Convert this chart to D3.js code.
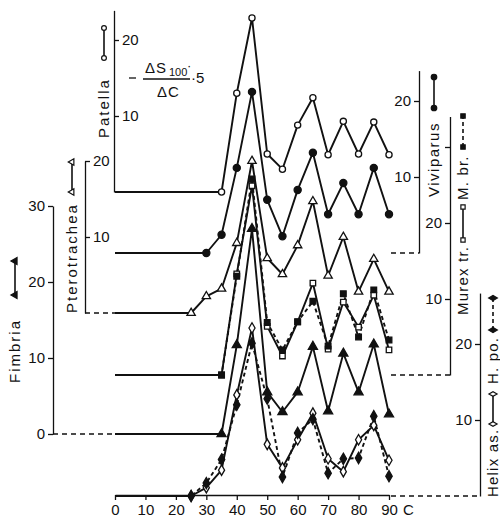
<!DOCTYPE html>
<html><head><meta charset="utf-8">
<script src="https://cdn.jsdelivr.net/npm/d3@7"></script>
<style>
body{margin:0;background:#fff}
text{font-family:"Liberation Sans",Arial,sans-serif;fill:#111}
</style>
</head><body>
<svg id="c" width="500" height="519"></svg>
<script>
// ---------- data ----------
const tempTicks = [0,10,20,30,40,50,60,70,80,90];
const patellaStart = 35;
const patella      = [0,13.0,22.9,5.0,3.0,8.8,12.4,4.9,9.3,5.0,9.2,4.9];
const viviparusStart = 30;
const viviparus    = [0,2.4,11.2,21.2,7.0,2.2,8.3,13.2,5.1,9.2,5.1,11.2,5.1];
const pteroStart = 25;
const pterotrachea = [0,2.2,3.2,9.2,20.0,7.2,5.1,8.9,14.7,4.9,10.0,2.8,7.1,2.8];
const murexStart = 35;
const murexTr      = [0,13.3,24.9,6.4,2.5,7.0,12.1,3.4,9.6,6.3,10.5,3.3];
const murexBr      = [0,13.0,25.8,6.9,3.3,7.0,9.7,3.8,10.7,5.0,11.2,4.6];
const fimbriaStart = 35;
const fimbria      = [0,11.7,27.0,5.5,2.9,5.5,11.5,3.0,10.6,5.5,11.8,2.6];
const helixStart = 25;
const helixAs      = [0,1.1,3.4,13.3,22.1,6.8,3.7,7.4,10.9,4.9,3.2,7.4,9.3,4.7];
const helixPo      = [0,1.7,4.8,12.0,20.1,12.8,2.5,8.3,10.1,3.0,4.9,5.0,10.5,2.6];

const patellaTicks = [10,20];
const viviparusTicks = [10,20];
const pteroTicks = [10,20];
const murexTicks = [10,20,30];
const murexTickLabels = ["10","20",""];
const fimbriaTicks = [0,10,20,30];
const helixTicks = [10,20];

// ---------- layout ----------
const svg = d3.select("#c");
const x = d3.scaleLinear().domain([0,90]).range([115,389]);
const unit = 7.6; // px per unit, shared by all stacked curves
function yScale(base, top){ return d3.scaleLinear().domain([0, top]).range([base, base - top*unit]); }

const yPat  = yScale(192, 23.9);
const yViv  = yScale(253, 24.0);
const yPte  = yScale(313, 20);
const yMur  = yScale(375, 34.0);
const yFim  = yScale(434, 30);
const yHel  = yScale(496, 26.7);

const INK = "#111";
const series = [
  {vals:patella, start:patellaStart, y:yPat, sym:d3.symbolCircle, size:30, open:true, dash:null},
  {vals:viviparus, start:viviparusStart, y:yViv, sym:d3.symbolCircle, size:40, open:false, dash:null},
  {vals:pterotrachea, start:pteroStart, y:yPte, sym:d3.symbolTriangle, size:30, open:true, dash:null},
  {vals:murexTr, start:murexStart, y:yMur, sym:d3.symbolSquare, size:30, open:true, dash:null},
  {vals:murexBr, start:murexStart, y:yMur, sym:d3.symbolSquare, size:32, open:false, dash:"4,3"},
  {vals:fimbria, start:fimbriaStart, y:yFim, sym:d3.symbolTriangle, size:36, open:false, dash:null},
  {vals:helixAs, start:helixStart, y:yHel, sym:d3.symbolDiamond, size:32, open:true, dash:null},
  {vals:helixPo, start:helixStart, y:yHel, sym:d3.symbolDiamond, size:36, open:false, dash:"4,3"},
];

// ---------- axes ----------
function styleAxis(g){
  g.selectAll("path.domain").attr("stroke",INK).attr("stroke-width",1.3);
  g.selectAll(".tick line").attr("stroke",INK).attr("stroke-width",1.3);
  g.selectAll(".tick text").attr("font-size",15).attr("font-family",'"Liberation Sans",Arial,sans-serif').attr("fill",INK);
}
svg.append("g").attr("transform","translate(0,495)")
  .call(d3.axisBottom(x).tickValues(tempTicks).tickSize(5).tickSizeOuter(0).tickPadding(4))
  .call(styleAxis);
svg.append("text").attr("x",403).attr("y",515).attr("font-size",15).text("C");

svg.append("g").attr("transform","translate(114,0)")
  .call(d3.axisRight(yPat).tickValues(patellaTicks).tickSize(5).tickSizeOuter(0).tickPadding(3))
  .call(styleAxis);
svg.append("g").attr("transform","translate(85,0)")
  .call(d3.axisRight(yPte).tickValues(pteroTicks).tickSize(5).tickSizeOuter(0).tickPadding(3))
  .call(styleAxis);
svg.append("g").attr("transform","translate(53,0)")
  .call(d3.axisLeft(yFim).tickValues(fimbriaTicks).tickSize(5).tickSizeOuter(0).tickPadding(3))
  .call(styleAxis);
svg.append("g").attr("transform","translate(419,0)")
  .call(d3.axisLeft(yViv).tickValues(viviparusTicks).tickSize(5).tickSizeOuter(0).tickPadding(3))
  .call(styleAxis);
svg.append("g").attr("transform","translate(450,0)")
  .call(d3.axisLeft(yMur).tickValues(murexTicks).tickFormat((d,i)=>murexTickLabels[i]).tickSize(5).tickSizeOuter(0).tickPadding(3))
  .call(styleAxis);
svg.append("g").attr("transform","translate(480,0)")
  .call(d3.axisLeft(yHel).tickValues(helixTicks).tickSize(5).tickSizeOuter(0).tickPadding(3))
  .call(styleAxis);

function dashedH(x1,x2,yy){
  svg.append("line").attr("x1",x1).attr("x2",x2).attr("y1",yy).attr("y2",yy)
    .attr("stroke",INK).attr("stroke-width",1.3).attr("stroke-dasharray","5,4");
}
dashedH(53, x(0), yFim(0));
dashedH(85, x(0), yPte(0));
dashedH(x(90)+2, 419, yViv(0));
dashedH(x(90)+2, 450, yMur(0));
dashedH(x(90)+2, 480, yHel(0));

// ---------- curves ----------
const line = d3.line().x(d=>x(d.t)).y(d=>d.yy);
series.forEach(s=>{
  const pts = s.vals.map((v,i)=>({t:s.start+5*i, v}));
  const path = [{t:0,v:0}].concat(pts).map(d=>({t:d.t, yy:s.y(d.v)}));
  svg.append("path").attr("d",line(path)).attr("fill","none").attr("stroke",INK)
    .attr("stroke-width",1.9).attr("stroke-dasharray",s.dash).attr("stroke-linejoin","round");
  s.pts = pts;
});
series.forEach(s=>{
  const sym = d3.symbol().type(s.sym).size(s.size);
  svg.append("g").selectAll("path").data(s.pts).join("path")
    .attr("d",sym)
    .attr("transform",d=>`translate(${x(d.t)},${s.y(d.v)})`)
    .attr("fill",s.open?"#fff":INK).attr("stroke",INK).attr("stroke-width",1.3);
});

// ---------- series labels (rotated) with legend keys ----------
function rlabel(cx, y0, txt, ls){
  svg.append("text").attr("transform",`translate(${cx},${y0}) rotate(-90)`)
    .attr("dy","0.36em").attr("font-size",15).attr("letter-spacing",ls).text(txt);
}
function key(cx, yA, yB, s){
  svg.append("line").attr("x1",cx).attr("x2",cx).attr("y1",yA).attr("y2",yB)
    .attr("stroke",INK).attr("stroke-width",1.6).attr("stroke-dasharray",s.dash);
  const sym = d3.symbol().type(s.sym).size(s.size*0.6);
  [yA,yB].forEach(yy=>{
    svg.append("path").attr("d",sym).attr("transform",`translate(${cx},${yy}) rotate(-90)`)
      .attr("fill",s.open?"#fff":INK).attr("stroke",INK).attr("stroke-width",1.2);
  });
}
rlabel(104, 138, "Patella", 2);           key(104, 58, 28, series[0]);
rlabel(434, 197, "Viviparus", 1.5);       key(434, 108, 77, series[1]);
rlabel(72, 313, "Pterotrachea", 2);       key(72, 192, 162, series[2]);
rlabel(463, 315, "Murex tr.", 1.2);       key(463, 240, 207, series[3]);
rlabel(463, 200, "M. br.", 1.2);          key(463, 147, 116, series[4]);
rlabel(15, 383, "Fimbria", 2);            key(15, 295, 261, series[5]);
rlabel(493, 497, "Helix as.", 1.2);       key(493, 424, 394, series[6]);
rlabel(493, 384, "H. po.", 1.2);          key(493, 330, 298, series[7]);

// ---------- formula ----------
const f = svg.append("g");
f.append("line").attr("x1",129).attr("x2",136).attr("y1",78).attr("y2",78).attr("stroke",INK).attr("stroke-width",1.3);
f.append("text").attr("x",145).attr("y",73).attr("font-size",15).attr("letter-spacing",1).text("ΔS");
f.append("text").attr("x",169).attr("y",76).attr("font-size",11).text("100");
f.append("text").attr("x",187).attr("y",70).attr("font-size",13).text("·");
f.append("line").attr("x1",143).attr("x2",190).attr("y1",79).attr("y2",79).attr("stroke",INK).attr("stroke-width",1.3);
f.append("text").attr("x",157).attr("y",97).attr("font-size",15).attr("letter-spacing",1).text("ΔC");
f.append("text").attr("x",191).attr("y",83).attr("font-size",15).text("·5");
</script>
</body></html>
